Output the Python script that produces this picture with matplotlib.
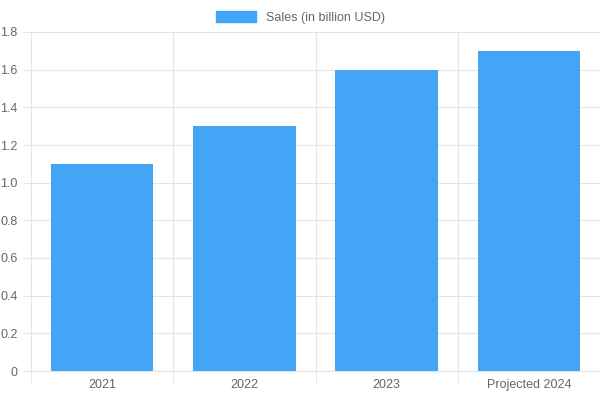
import matplotlib
matplotlib.use("Agg")
import matplotlib.pyplot as plt
from matplotlib.patches import Patch

categories = ["2021", "2022", "2023", "Projected 2024"]
sales = [1.1, 1.3, 1.6, 1.7]
yticks = [0, 0.2, 0.4, 0.6, 0.8, 1.0, 1.2, 1.4, 1.6, 1.8]
ylabels = ["0", "0.2", "0.4", "0.6", "0.8", "1.0", "1.2", "1.4", "1.6", "1.8"]

plt.rcParams['font.family'] = ['Liberation Sans', 'DejaVu Sans']
fig = plt.figure(figsize=(6, 4), dpi=100)
ax = fig.add_axes([31/600, 29/400, 569/600, 339/400])
x = list(range(len(categories)))
ax.bar(x, sales, width=0.72, color="#42A5F5", zorder=3)
ax.set_xlim(-0.5, len(categories) - 0.5)
ax.set_ylim(0, 1.8)
ax.set_yticks(yticks)
ax.set_yticklabels(ylabels)
ax.set_xticks(x)
ax.set_xticklabels(categories)
ax.set_xticks([i + 0.5 for i in range(-1, len(categories))], minor=True)
ax.grid(True, axis="y", color="#e5e5e5", lw=0.8, zorder=0)
ax.grid(True, axis="x", which="minor", color="#e5e5e5", lw=0.8, zorder=0)
ax.tick_params(axis="x", which="major", length=0, colors="#666666", labelsize=9, pad=6)
ax.tick_params(axis="x", which="minor", length=9, color="#e5e5e5")
ax.tick_params(axis="y", length=6, color="#e5e5e5", colors="#666666", labelsize=9)
for s in ["top", "right"]:
    ax.spines[s].set_visible(False)
for s in ["left", "bottom"]:
    ax.spines[s].set_color("#e5e5e5")
fig.legend(handles=[Patch(color="#42A5F5", label="Sales (in billion USD)")],
           loc="upper center", bbox_to_anchor=(0.5, 1.0), frameon=False,
           fontsize=9, labelcolor="#666666", handlelength=3.2, handleheight=1.0)
fig.savefig("out.png", dpi=100)
